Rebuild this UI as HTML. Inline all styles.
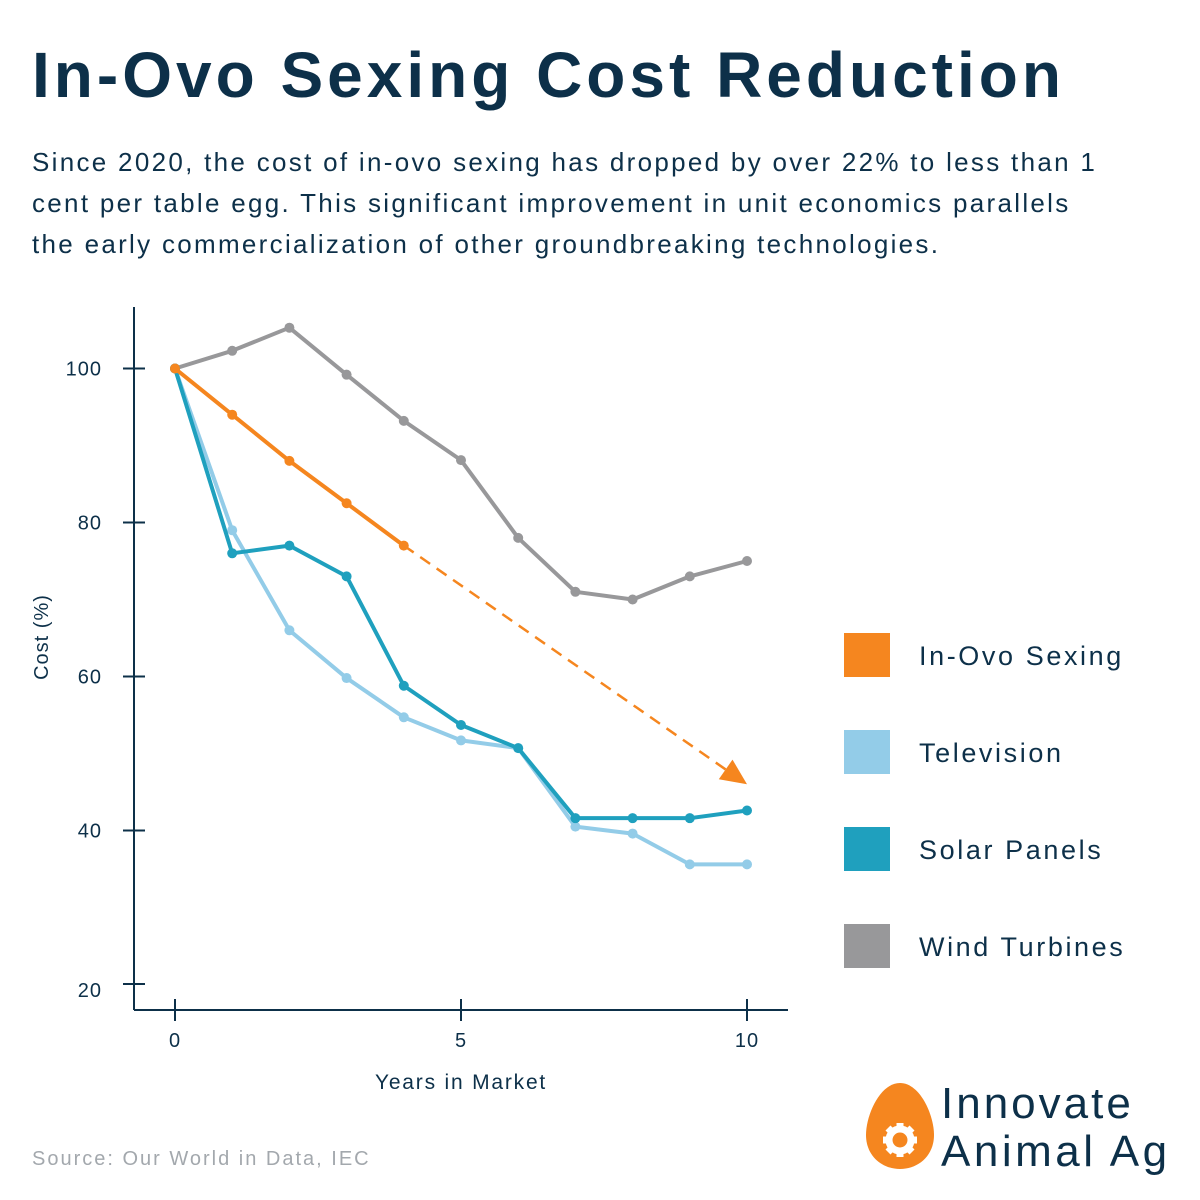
<!DOCTYPE html>
<html><head><meta charset="utf-8"><style>
body{margin:0;background:#fff;}
#wrap{position:relative;width:1200px;height:1200px;overflow:hidden;font-family:"Liberation Sans",sans-serif;color:#0d3049;}
h1{position:absolute;left:32px;top:38px;margin:0;font-size:64px;font-weight:bold;letter-spacing:4px;white-space:nowrap;}
p.sub{position:absolute;left:32px;top:142px;margin:0;font-size:26px;letter-spacing:2.3px;line-height:41px;width:1090px;}
.src{position:absolute;left:32px;top:1148px;font-size:20px;color:#a3a8ad;letter-spacing:2px;}
</style></head><body>
<div id="wrap">
<h1>In-Ovo Sexing Cost Reduction</h1>
<p class="sub">Since 2020, the cost of in-ovo sexing has dropped by over 22% to less than 1 cent per table egg. This significant improvement in unit economics parallels the early commercialization of other groundbreaking technologies.</p>
<svg id="chart" width="1200" height="1200" style="position:absolute;left:0;top:0"></svg>
<div class="src">Source: Our World in Data, IEC</div>
</div>
<script>
const years=[0,1,2,3,4,5,6,7,8,9,10];
const inOvo=[100,94,88,82.5,77];
const inOvoProjection=[[4,77],[10,46]];
const television=[100,79,66,59.8,54.7,51.7,50.7,40.5,39.6,35.6,35.6];
const solar=[100,76,77,73,58.8,53.7,50.7,41.6,41.6,41.6,42.6];
const wind=[100,102.3,105.3,99.2,93.2,88.1,78,71,70,73,75];
const yTicks=[20,40,60,80,100];
const xTicks=[0,5,10];
const NS="http://www.w3.org/2000/svg";
const svg=document.getElementById('chart');
const X=v=>175+v*57.2;
const Y=v=>368.5-(v-100)*7.7;
function mk(t,a,p){const e=document.createElementNS(NS,t);for(const k in a)e.setAttribute(k,a[k]);(p||svg).appendChild(e);return e;}
const navy="#0d3049";
let e;
e=mk('line',{x1:134,y1:307,x2:134,y2:1010,stroke:navy,'stroke-width':2});


e=mk('line',{x1:134,y1:1010,x2:788,y2:1010,stroke:navy,'stroke-width':2});


yTicks.forEach(v=>{const y=v==20?984:Y(v);
 mk('line',{x1:123,y1:y,x2:145,y2:y,stroke:navy,'stroke-width':2});
 const t=mk('text',{x:102,y:(v==20?990:y)+7,'text-anchor':'end','font-size':20,fill:navy,'letter-spacing':1});t.textContent=v;
 
 });
xTicks.forEach(v=>{const x=X(v);
 mk('line',{x1:x,y1:999,x2:x,y2:1021,stroke:navy,'stroke-width':2});
 const t=mk('text',{x:x,y:1047,'text-anchor':'middle','font-size':20,fill:navy,'letter-spacing':1});t.textContent=v;
 
 });
e=mk('text',{x:461,y:1089,'text-anchor':'middle','font-size':21,fill:navy,'letter-spacing':1.8});e.textContent='Years in Market';


e=mk('text',{x:0,y:0,'text-anchor':'middle','font-size':20,fill:navy,'letter-spacing':1,transform:'translate(48,637) rotate(-90)'});e.textContent='Cost (%)';


function series(vals,color,name){
 const g=mk('g',{});
 
 
 mk('polyline',{points:vals.map((v,i)=>X(years[i])+','+Y(v)).join(' '),fill:'none',stroke:color,'stroke-width':4,'stroke-linejoin':'round'},g);
 vals.forEach((v,i)=>{const c=mk('circle',{cx:X(years[i]),cy:Y(v),r:5,fill:color},g);
  
  });
}
series(wind,"#98989a","wind-turbines-series");
series(television,"#93cce8","television-series");
series(solar,"#1fa0be","solar-panels-series");
series(inOvo,"#f5861f","in-ovo-series");
const [p0,p1]=inOvoProjection;
const x0=X(p0[0]),y0=Y(p0[1]),x1=X(p1[0]),y1=Y(p1[1]);
const ang=Math.atan2(y1-y0,x1-x0),L=26;
const bx=x1-L*Math.cos(ang),by=y1-L*Math.sin(ang);
e=mk('line',{x1:x0,y1:y0,x2:bx,y2:by,stroke:"#f5861f",'stroke-width':2.5,'stroke-dasharray':'12,8'});


const px=-Math.sin(ang)*12,py=Math.cos(ang)*12;
e=mk('polygon',{points:`${x1},${y1} ${bx+px},${by+py} ${bx-px},${by-py}`,fill:"#f5861f"});


const legendNames=['In-Ovo Sexing','Television','Solar Panels','Wind Turbines'];
const legendColors=["#f5861f","#93cce8","#1fa0be","#98989a"];
legendNames.forEach((n,i)=>{const y=633+i*97;
 const g=mk('g',{});
 
 
 mk('rect',{x:844,y:y,width:46,height:44,fill:legendColors[i]},g);
 const t=mk('text',{x:919,y:y+32,'font-size':27,fill:navy,'letter-spacing':'2.6'},g);t.textContent=n;});
const lg=mk('g',{});


mk('path',{d:'M900,1083 C880,1083 866,1115 866,1135 C866,1156 882,1169 900,1169 C918,1169 934,1156 934,1135 C934,1115 920,1083 900,1083 Z',fill:"#f5861f"},lg);
for(let k=0;k<8;k++){const a=k*Math.PI/4;mk('rect',{x:-3.5,y:-17,width:7,height:8,fill:'#fff',transform:`translate(900,1140) rotate(${a*180/Math.PI})`},lg);}
mk('circle',{cx:900,cy:1140,r:11,fill:'none',stroke:'#fff','stroke-width':7},lg);
let t=mk('text',{x:941,y:1118,'font-size':44,fill:navy,'letter-spacing':3},lg);t.textContent='Innovate';
t=mk('text',{x:941,y:1166,'font-size':44,fill:navy,'letter-spacing':3.5},lg);t.textContent='Animal Ag';
</script>
</body></html>
